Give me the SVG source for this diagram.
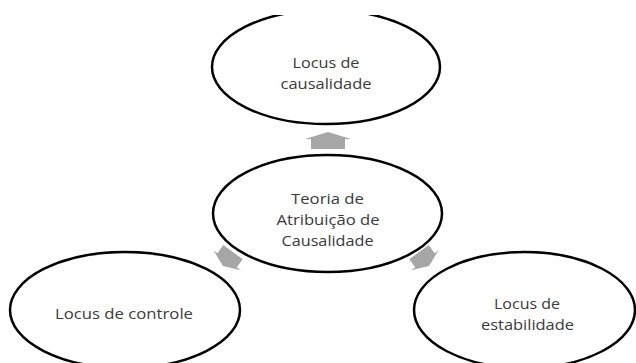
<svg xmlns="http://www.w3.org/2000/svg" width="636" height="363" viewBox="0 0 636 363">
  <style>
    .node { fill: #ffffff; stroke: #000000; stroke-width: 2.5; }
    .label { font-family: "Open Sans", "Liberation Sans", sans-serif; font-size: 14px; fill: #3a3a3a; text-anchor: middle; }
    .arrow { fill: #a6a6a6; stroke: none; }
  </style>
  <defs>
    <clipPath id="topClip">
      <rect x="0" y="15" width="636" height="348"/>
    </clipPath>
    <polygon id="arrowShape" points="0,-8.5 17,-1.5 12,-1.5 12,8.5 -12,8.5 -12,-1.5 -17,-1.5"/>
  </defs>
  <rect x="0" y="0" width="636" height="363" fill="#ffffff"/>

  <g id="connectors">
    <polygon class="arrow" points="328,132 351,139 345,139 345,149 311,149 311,139 305,139"/>
    <use href="#arrowShape" class="arrow" transform="translate(228,259) rotate(-144)"/>
    <use href="#arrowShape" class="arrow" transform="translate(424,259) rotate(144)"/>
  </g>

  <g id="node-causalidade">
    <ellipse class="node" cx="326" cy="67" rx="114" ry="57" clip-path="url(#topClip)"/>
    <text class="label" x="326" y="68" textLength="67" lengthAdjust="spacingAndGlyphs">Locus de</text>
    <text class="label" x="326" y="89" textLength="91" lengthAdjust="spacingAndGlyphs">causalidade</text>
  </g>

  <g id="node-teoria">
    <ellipse class="node" cx="327.5" cy="213.5" rx="114.5" ry="58.5"/>
    <text class="label" x="327.5" y="203.5" textLength="73" lengthAdjust="spacingAndGlyphs">Teoria de</text>
    <text class="label" x="328" y="224.5" textLength="103" lengthAdjust="spacingAndGlyphs">Atribuição de</text>
    <text class="label" x="327.5" y="245.5" textLength="92" lengthAdjust="spacingAndGlyphs">Causalidade</text>
  </g>

  <g id="node-controle">
    <ellipse class="node" cx="125" cy="310" rx="115" ry="58"/>
    <text class="label" x="124" y="319" textLength="138" lengthAdjust="spacingAndGlyphs">Locus de controle</text>
  </g>

  <g id="node-estabilidade">
    <ellipse class="node" cx="524.5" cy="310" rx="110.5" ry="58"/>
    <text class="label" x="527" y="308.5" textLength="66" lengthAdjust="spacingAndGlyphs">Locus de</text>
    <text class="label" x="527.5" y="330" textLength="93" lengthAdjust="spacingAndGlyphs">estabilidade</text>
  </g>
</svg>
